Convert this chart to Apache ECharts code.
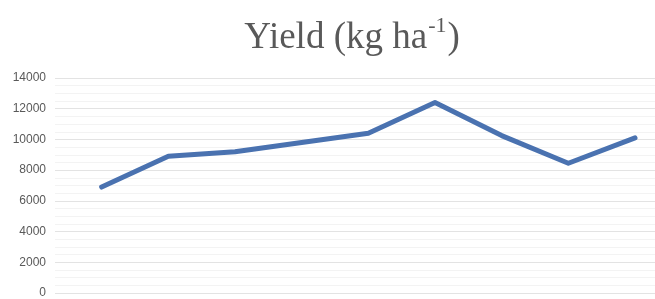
<!DOCTYPE html>
<html>
<head>
<meta charset="utf-8">
<script src="https://cdn.jsdelivr.net/npm/echarts@6/dist/echarts.min.js"></script>
<style>html,body{margin:0;padding:0;background:#fff;}#c{width:655px;height:299px;}</style>
</head>
<body>
<div id="c"></div>
<script>
var categories = [1, 2, 3, 4, 5, 6, 7, 8, 9];
var yieldValues = [6900, 8900, 9200, 9800, 10400, 12400, 10250, 8450, 10100];
var yTicks = [0, 2000, 4000, 6000, 8000, 10000, 12000, 14000];

var chart = echarts.init(document.getElementById('c'));
chart.setOption({
  animation: false,
  backgroundColor: '#fff',
  title: {
    text: '{m|Yield (kg ha}{s|-1}{m|)}',
    left: 347, top: 11, textAlign: 'center',
    textStyle: {
      fontWeight: 'normal',
      rich: {
        m: { fontFamily: 'Liberation Serif', fontWeight: 'normal', fontSize: 37, color: '#595959', lineHeight: 44 },
        s: { fontFamily: 'Liberation Serif', fontWeight: 'normal', fontSize: 22, color: '#595959', lineHeight: 44, padding: [0, 1, 24, 1] }
      }
    }
  },
  grid: { left: 55, right: 0, top: 78, bottom: 4 },
  xAxis: {
    type: 'value', min: 0.3, max: 9.3,
    show: false, splitLine: { show: false }
  },
  yAxis: {
    type: 'value', min: yTicks[0], max: yTicks[yTicks.length - 1], interval: 2000,
    axisLine: { show: false }, axisTick: { show: false },
    axisLabel: { color: '#595959', fontSize: 12, fontFamily: 'Liberation Sans', margin: 9,
      formatter: function (v) { return String(v); } },
    splitLine: { lineStyle: { color: '#e3e3e3', width: 1 } },
    minorTick: { show: false, splitNumber: 4 },
    minorSplitLine: { show: true, lineStyle: { color: '#f3f3f3', width: 1 } }
  },
  series: [{
    type: 'line',
    data: categories.map(function (c, i) { return [c, yieldValues[i]]; }),
    symbol: 'none',
    lineStyle: { color: '#4a72b0', width: 5, cap: 'round', join: 'round' },
    itemStyle: { color: '#4a72b0' }
  }]
});
</script>
</body>
</html>
